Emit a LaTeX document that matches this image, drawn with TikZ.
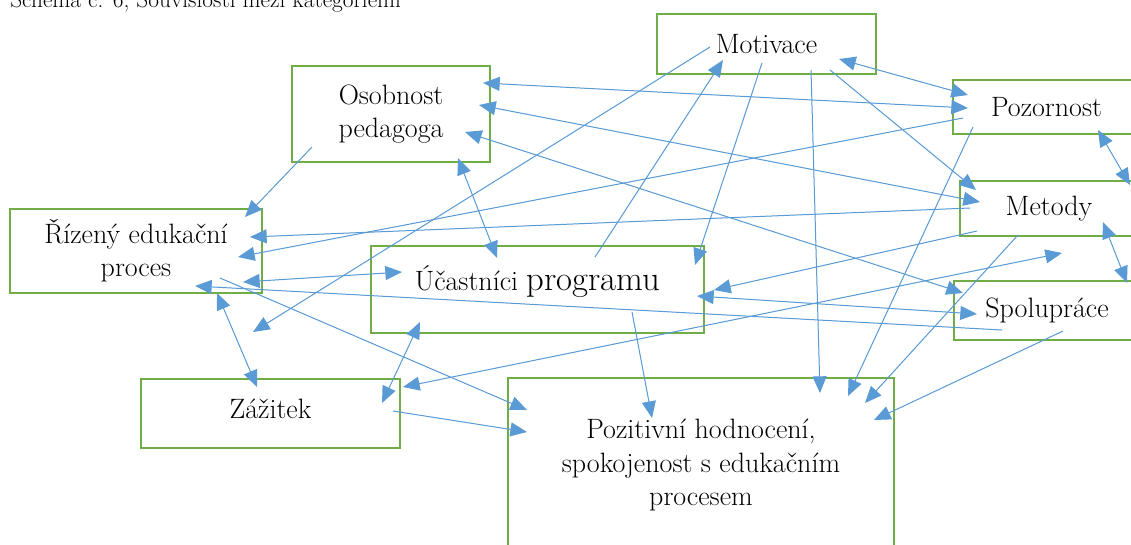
\documentclass[tikz,border=0pt]{standalone}
\usepackage{fontspec}
\usepackage{xcolor}
\usepackage{tikz}
\usetikzlibrary{arrows.meta, positioning}

\definecolor{boxgreen}{HTML}{70AD47}
\definecolor{linkblue}{HTML}{5B9BD5}

\begin{document}
\begin{tikzpicture}[x=0.75pt, y=-0.75pt,
    catbox/.style={rectangle, draw=boxgreen, line width=2pt, align=center, inner sep=2pt,
      font=\fontsize{21}{25}\selectfont},
    arr/.style={-{Triangle[length=12.5pt, width=10.5pt]}, draw=linkblue, fill=linkblue, line width=0.75pt},
    darr/.style={{Triangle[length=12.5pt, width=10.5pt]}-{Triangle[length=12.5pt, width=10.5pt]}, draw=linkblue, fill=linkblue, line width=0.75pt}]
    \useasboundingbox (0,0) rectangle (1131,544);
    % Caption (cut by the page edge)
    \node[anchor=base west, inner sep=0pt, font=\fontsize{17.5}{21}\selectfont] (title) at (10,7)
      {Schema č. 6, Souvislosti mezi kategoriemi};
    % Categories
    \node[catbox, minimum width=164.25pt, minimum height=45pt] (mot) at (766.5,44) {Motivace};
    \node[catbox, minimum width=148.5pt, minimum height=72pt] (oso) at (391,114) {Osobnost\\pedagoga};
    \node[catbox, minimum width=140.25pt, minimum height=40.5pt] (poz) at (1046.5,107) {Pozornost};
    \node[catbox, minimum width=133.5pt, minimum height=41.25pt] (met) at (1049,208.5) {Metody};
    \node[catbox, minimum width=189pt, minimum height=63pt] (riz) at (136,251) {Řízený edukační\\proces};
    \node[catbox, minimum width=249.75pt, minimum height=65.25pt, text depth=17.5pt] (uca) at (537.5,289.5)
      {Účastníci {\fontsize{26}{30}\selectfont programu}};
    \node[catbox, minimum width=139.5pt, minimum height=44.25pt] (spo) at (1047,310.5) {Spolupráce};
    \node[catbox, minimum width=194.25pt, minimum height=51.75pt, text depth=7.5pt] (zaz) at (270.5,413.5) {Zážitek};
    \node[catbox, minimum width=289.5pt, minimum height=130.5pt] (pozi) at (701,465)
      {Pozitivní hodnocení,\\spokojenost s edukačním\\procesem};
    % Links from Motivace
    \draw[darr] ([shift={(72.5,15)}]mot.center) -- ([shift={(-78.5,-12)}]poz.center);
    \draw[arr] ([shift={(-56.5,3)}]mot.center) -- ([shift={(-17.5,-81.5)}]zaz.center);
    \draw[arr] ([shift={(57.5,-32.5)}]uca.center) -- ([shift={(-43.5,16)}]mot.center);
    \draw[arr] ([shift={(-4.5,19)}]mot.center) -- ([shift={(157.5,-24.5)}]uca.center);
    \draw[arr] ([shift={(44.5,26)}]mot.center) -- ([shift={(119,-72)}]pozi.center);
    \draw[arr] ([shift={(63.5,26)}]mot.center) -- ([shift={(-73,-18.5)}]met.center);
    % Links from Osobnost pedagoga
    \draw[darr] ([shift={(92,-31)}]oso.center) -- ([shift={(-78.5,1)}]poz.center);
    \draw[darr] ([shift={(88,-9)}]oso.center) -- ([shift={(-69,-6.5)}]met.center);
    \draw[darr] ([shift={(74,18)}]oso.center) -- ([shift={(-84,-17.5)}]spo.center);
    \draw[darr] ([shift={(67,44)}]oso.center) -- ([shift={(-40.5,-31.5)}]uca.center);
    \draw[arr] ([shift={(-79,33)}]oso.center) -- ([shift={(109,-34)}]riz.center);
    % Links from Pozornost
    \draw[darr] ([shift={(51.5,23)}]poz.center) -- ([shift={(81,-23.5)}]met.center);
    \draw[arr] ([shift={(-83.5,11)}]poz.center) -- ([shift={(102,6)}]riz.center);
    \draw[arr] ([shift={(-73.5,20)}]poz.center) -- ([shift={(147,-69)}]pozi.center);
    % Links from Metody
    \draw[arr] ([shift={(-79,-0.5)}]met.center) -- ([shift={(114,-14)}]riz.center);
    \draw[arr] ([shift={(-72,22.5)}]met.center) -- ([shift={(176.5,0.5)}]uca.center);
    \draw[arr] ([shift={(-31,26.5)}]met.center) -- ([shift={(164,-62)}]pozi.center);
    \draw[darr] ([shift={(54,13.5)}]met.center) -- ([shift={(80,-27.5)}]spo.center);
    \draw[darr] ([shift={(132.5,-26.5)}]zaz.center) -- ([shift={(13,44.5)}]met.center);
    % Links from Spolupráce
    \draw[darr] ([shift={(-70,3.5)}]spo.center) -- ([shift={(159.5,6.5)}]uca.center);
    \draw[arr] ([shift={(-45,19.5)}]spo.center) -- ([shift={(59,35)}]riz.center);
    \draw[arr] ([shift={(16,20.5)}]spo.center) -- ([shift={(173,-45)}]pozi.center);
    % Links round Zážitek, Řízený edukační proces and Účastníci programu
    \draw[darr] ([shift={(111.5,-10.5)}]zaz.center) -- ([shift={(-117.5,32.5)}]uca.center);
    \draw[arr] ([shift={(122.5,-2.5)}]zaz.center) -- ([shift={(-174,-33)}]pozi.center);
    \draw[arr] ([shift={(84,27)}]riz.center) -- ([shift={(-174,-55)}]pozi.center);
    \draw[darr] ([shift={(107,31)}]riz.center) -- ([shift={(-135.5,-17.5)}]uca.center);
    \draw[darr] ([shift={(81,42)}]riz.center) -- ([shift={(-13.5,-26.5)}]zaz.center);
    \draw[arr] ([shift={(94.5,22.5)}]uca.center) -- ([shift={(-49,-47)}]pozi.center);
\end{tikzpicture}
\end{document}
